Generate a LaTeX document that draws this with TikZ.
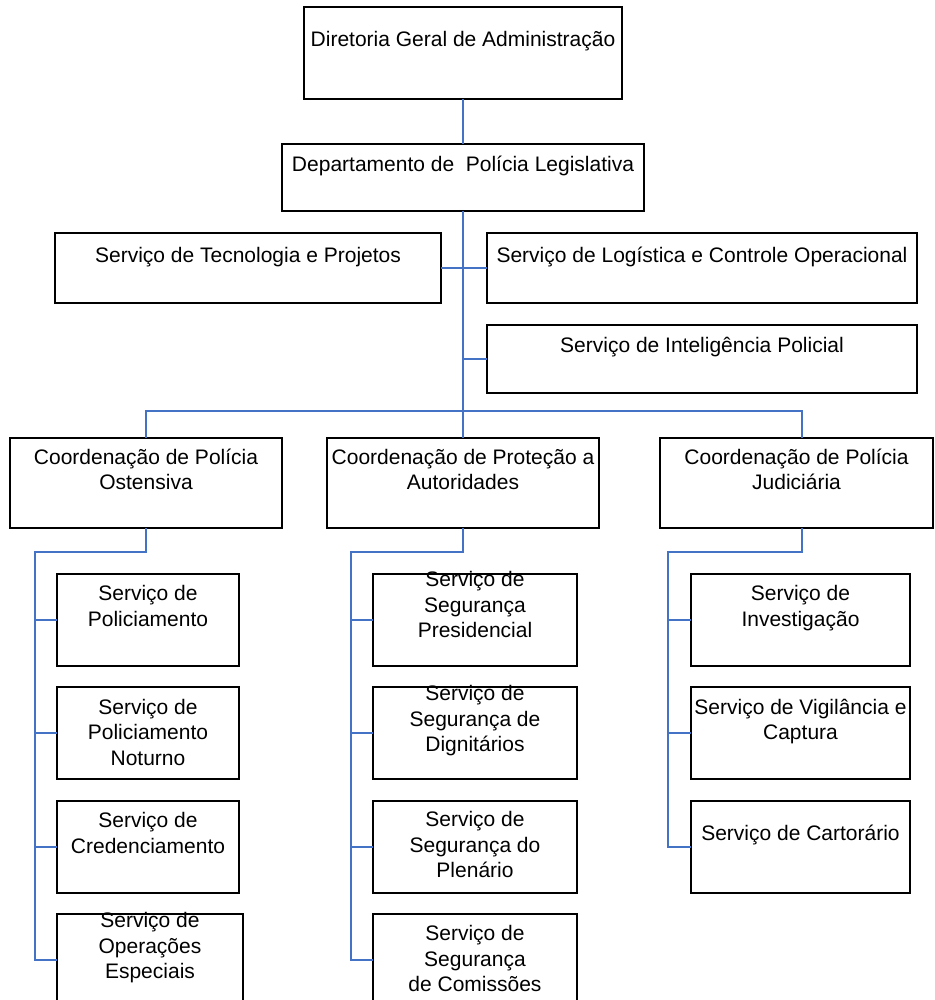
\documentclass[tikz,border=0pt]{standalone}
\usepackage{fontspec}
\setmainfont{Liberation Sans}
\usetikzlibrary{positioning}
\definecolor{OrgBlue}{RGB}{68,114,196}
\newcommand{\firstline}{\rule{0pt}{22pt}}

\begin{document}
\begin{tikzpicture}[x=1pt, y=-1pt,
    unitbox/.style={draw=black, line width=2pt, anchor=north west, inner sep=0pt, outer sep=0pt, minimum height=92pt},
    unittext/.style={align=center, anchor=north, inner sep=0pt, font=\fontsize{21}{25.5}\selectfont},
    link/.style={draw=OrgBlue, line width=1.8pt}]
  \useasboundingbox (0,0) rectangle (934,1000);

  \node[unitbox, minimum width=318pt] (dga) at (304,7) {};
  \node[unitbox, minimum width=362pt, minimum height=67pt] (dpl) at (282,144) {};
  \node[unitbox, minimum width=386pt, minimum height=70pt] (stp) at (55,233) {};
  \node[unitbox, minimum width=430pt, minimum height=70pt] (slc) at (487,233) {};
  \node[unitbox, minimum width=430pt, minimum height=68pt] (sip) at (487,325) {};
  \node[unitbox, minimum width=272pt, minimum height=90pt] (cpo) at (10,438) {};
  \node[unitbox, minimum width=272pt, minimum height=90pt] (cpa) at (327,438) {};
  \node[unitbox, minimum width=273pt, minimum height=90pt] (cpj) at (660,438) {};

  \node[unitbox, minimum width=182pt] (spo) at (57,574) {};
  \node[unitbox, minimum width=182pt] (spn) at (57,687) {};
  \node[unitbox, minimum width=182pt] (scr) at (57,801) {};
  \node[unitbox, minimum width=186pt] (sop) at (57,914) {};

  \node[unitbox, minimum width=204pt] (ssp) at (373,574) {};
  \node[unitbox, minimum width=204pt] (ssd) at (373,687) {};
  \node[unitbox, minimum width=204pt] (ssl) at (373,801) {};
  \node[unitbox, minimum width=204pt] (ssc) at (373,914) {};

  \node[unitbox, minimum width=219pt] (sin) at (691,574) {};
  \node[unitbox, minimum width=219pt] (svc) at (691,687) {};
  \node[unitbox, minimum width=219pt] (sca) at (691,801) {};

  \node[unittext, below=17.7pt of dga.north] (dga-t) {\firstline Diretoria Geral de Administração};
  \node[unittext, below=5.7pt of dpl.north] (dpl-t) {\firstline Departamento de\ \ Polícia Legislativa};
  \node[unittext, below=7.3pt of stp.north] (stp-t) {\firstline Serviço de Tecnologia e Projetos};
  \node[unittext, below=7.3pt of slc.north] (slc-t) {\firstline Serviço de Logística e Controle Operacional};
  \node[unittext, below=5.3pt of sip.north] (sip-t) {\firstline Serviço de Inteligência Policial};
  \node[unittext, below=4pt of cpo.north] (cpo-t) {\firstline Coordenação de Polícia\\Ostensiva};
  \node[unittext, below=4pt of cpa.north] (cpa-t) {\firstline Coordenação de Proteção a\\Autoridades};
  \node[unittext, below=4pt of cpj.north] (cpj-t) {\firstline Coordenação de Polícia\\Judiciária};

  \node[unittext, below=4.7pt of spo.north] (spo-t) {\firstline Serviço de\\Policiamento};
  \node[unittext, below=5pt of spn.north] (spn-t) {\firstline Serviço de\\Policiamento\\Noturno};
  \node[unittext, below=4.3pt of scr.north] (scr-t) {\firstline Serviço de\\Credenciamento};
  \node[unittext, below=-8.3pt of sop.north] (sop-t) {\firstline Serviço de\\Operações\\Especiais};

  \node[unittext, below=-9.3pt of ssp.north] (ssp-t) {\firstline Serviço de\\Segurança\\Presidencial};
  \node[unittext, below=-8.3pt of ssd.north] (ssd-t) {\firstline Serviço de\\Segurança de\\Dignitários};
  \node[unittext, below=3.7pt of ssl.north] (ssl-t) {\firstline Serviço de\\Segurança do\\Plenário};
  \node[unittext, below=4.7pt of ssc.north] (ssc-t) {\firstline Serviço de\\Segurança\\de Comissões};

  \node[unittext, below=4.7pt of sin.north] (sin-t) {\firstline Serviço de\\Investigação};
  \node[unittext, below=5pt of svc.north] (svc-t) {\firstline Serviço de Vigilância e\\Captura};
  \node[unittext, below=17pt of sca.north] (sca-t) {\firstline Serviço de Cartorário};

  \coordinate (hub) at (463,411);
  \coordinate (ost) at (35,552);
  \coordinate (aut) at (351,552);
  \coordinate (jud) at (668,552);

  \draw[link] (dga) -- (dpl);
  \draw[link] (dpl.south) -- (hub);
  \draw[link] (stp.east) -- (slc.west);
  \draw[link] (sip.west) -- (sip.west -| hub);
  \draw[link] (cpo.north) |- (hub) -| ([xshift=5.5pt]cpj.north);
  \draw[link] (hub) -- (cpa.north);

  \draw[link] (cpo.south) |- (ost) |- (sop.west);
  \foreach \s in {spo,spn,scr}
    \draw[link] (\s.west -| ost) -- (\s.west);
  \draw[link] (cpa.south) |- (aut) |- (ssc.west);
  \foreach \s in {ssp,ssd,ssl}
    \draw[link] (\s.west -| aut) -- (\s.west);
  \draw[link] ([xshift=5.5pt]cpj.south) |- (jud) |- (sca.west);
  \foreach \s in {sin,svc}
    \draw[link] (\s.west -| jud) -- (\s.west);
\end{tikzpicture}
\end{document}
